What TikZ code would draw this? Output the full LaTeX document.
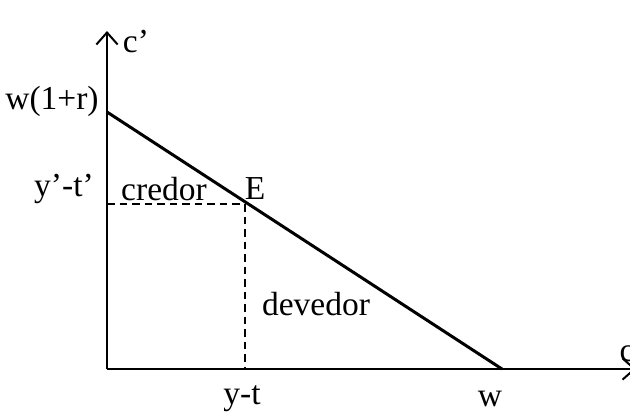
\documentclass[tikz,border=0pt]{standalone}
\usepackage{fontspec}
\setmainfont{Liberation Serif}
\usetikzlibrary{arrows.meta}
\begin{document}
\begin{tikzpicture}[x=0.4pt,y=-0.4pt,
  every node/.style={font=\fontsize{13.4}{15}\selectfont, inner sep=0pt},
  axis/.style={line width=0.8pt,-{Straight Barb[length=4.8pt,width=8.5pt,line width=0.8pt]}},
  guide/.style={dashed, line width=0.6pt, dash pattern=on 3pt off 2pt}]
\useasboundingbox (0,0) rectangle (630,414);
\coordinate (O) at (107,369);
\coordinate (ytop) at (107,31);
\coordinate (xend) at (636,369);
\coordinate (A) at (107,112);
\coordinate (W) at (502,369);
\coordinate (E) at (245,204);
\coordinate (Ey) at (107,204);
\coordinate (Ex) at (245,369);

\draw[axis] (O) -- (ytop);
\draw[axis] (O) -- (xend);
\draw[line width=1.2pt] (A) -- (W);
\draw[guide] (Ey) -- (E);
\draw[guide] (E) -- (Ex);

\node (cp) at (136,42) {c’};
\node (c) at (627,354) {c};
\node (lA) at (52,101) {w(1+r)};
\node (lyt) at (64,189) {y’-t’};
\node (lcred) at (164,189) {credor};
\node (lE) at (255,189) {E};
\node (ldev) at (316,304) {devedor};
\node (lx) at (242,399) {y-t};
\node (lw) at (490,399) {w};
\end{tikzpicture}
\end{document}
